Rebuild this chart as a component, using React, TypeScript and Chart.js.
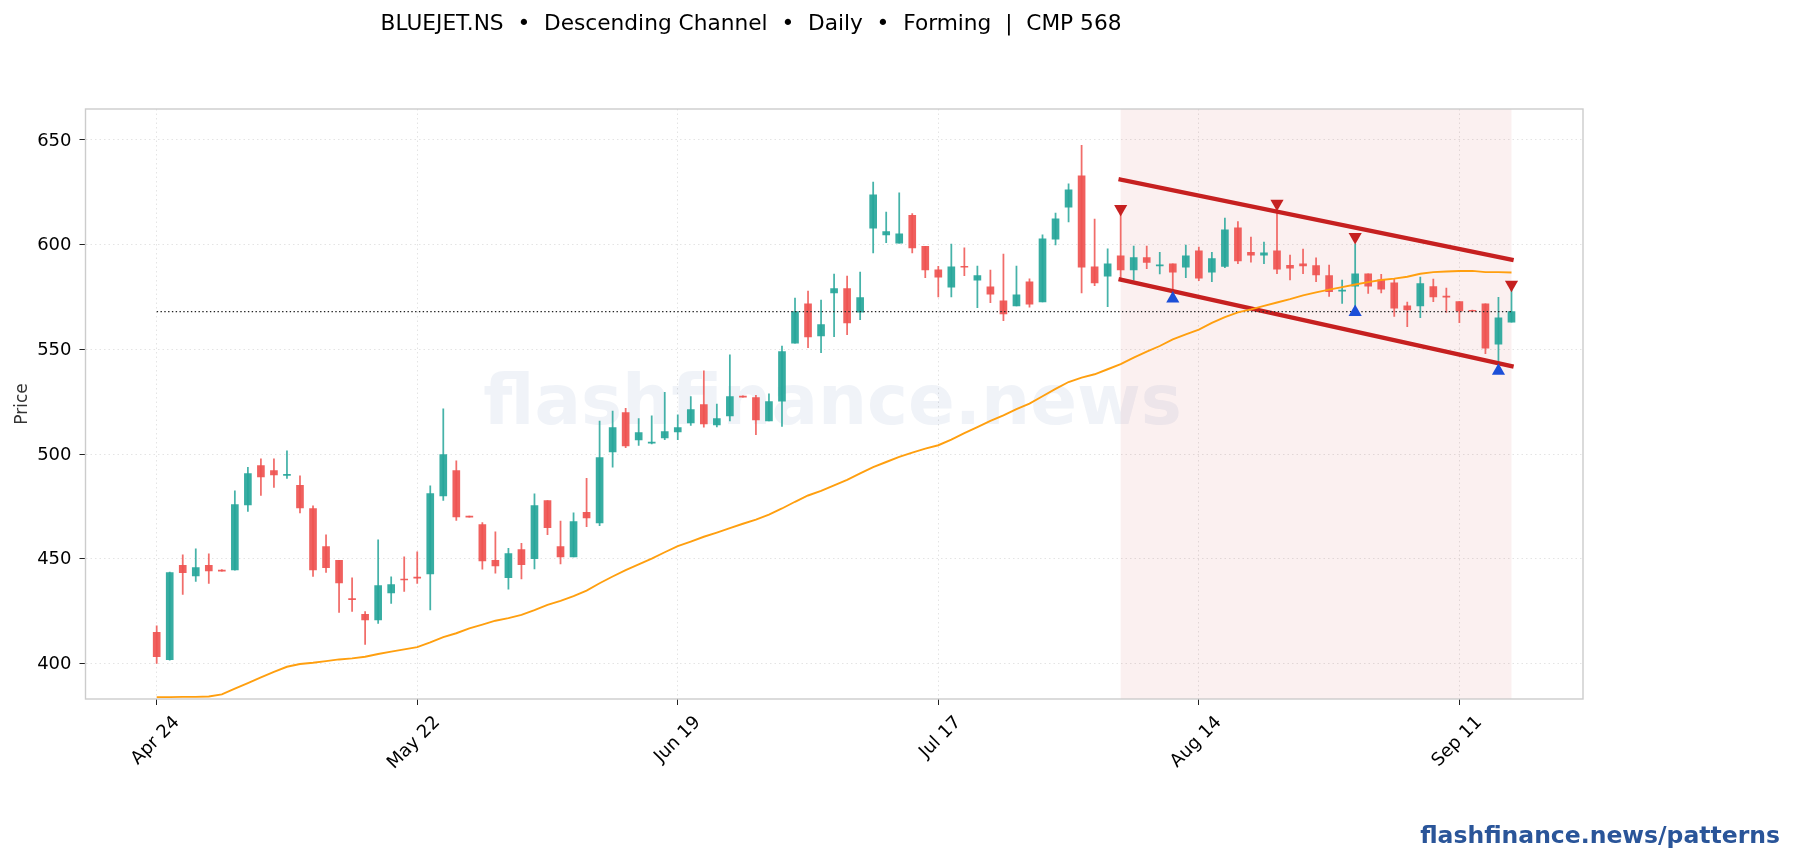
import React, { useEffect, useRef } from "react";
import { Chart, registerables } from "chart.js";

Chart.register(...registerables);

const titleText = "BLUEJET.NS  •  Descending Channel  •  Daily  •  Forming  |  CMP 568";
const footerText = "flashfinance.news/patterns";
const watermarkText = "flashfinance.news";
const tickIndexes = [0, 20, 40, 60, 80, 100];
const tickLabels = ["Apr 24", "May 22", "Jun 19", "Jul 17", "Aug 14", "Sep 11"];

const opens = [414.8,401.8,446.8,441.8,446.8,444.6,444.7,475.7,494.5,492.1,489.8,485,474,455.8,449.2,431,423.4,420.8,433.7,440.3,441.2,442.8,480,492.1,470.4,466.3,449.2,440.9,454.4,450,477.8,455.8,450.9,472.1,467.1,501,519.8,506.8,505.2,507.7,510.6,514.9,523.6,513.9,518.2,527.7,527,515.8,525.3,553,571.8,556.4,576.9,579,567.8,607.9,604.6,600.7,614,599.2,588,579.7,589.7,583.1,579.9,573.2,570.7,582.3,572.6,602.6,617.9,632.9,589.4,585,594.7,587.9,593.8,589.8,590.9,589.3,597.1,586.9,589.6,608.1,596.3,595,597.1,590.1,590.9,590,585.2,577.8,580.2,586.1,583.2,581.8,570.8,570.7,580,575.4,572.8,568.6,571.8,552.5,563];
const highs = [418,443.6,451.9,454.7,452.3,444.8,482.4,493.6,497.7,497.7,501.5,489.6,475.3,461.4,449.2,440.9,424.7,459,441.4,450.9,453.3,484.8,521.6,496.7,470.4,467.3,462.8,455,457.3,481,477.8,468,471.9,488.4,515.8,520.5,521.8,516.9,518.2,529.5,518.7,527.4,539.8,523.9,547.4,527.8,528,528.7,551.6,574.5,577.8,573.5,586,585,586.9,629.9,615.6,624.8,614.8,599.2,589.6,600.3,598.5,589.8,587.9,595.5,589.8,583.7,604.7,615.1,629.1,647.5,612.2,598,616.3,599.3,599.3,596.4,590.9,599.8,598.8,596.4,612.7,611,603.6,601.2,616.3,595,597.9,593.7,590.3,583.1,600.4,586.1,585.8,583.4,572.6,584.5,583.6,579.3,572.8,568.7,571.8,574.9,579];
const lows = [400,401.5,432.9,439.1,438.2,444,444.5,472.6,480.2,484,488.3,471.9,441.5,443.4,424.3,424.8,409.1,419.1,428.6,434.4,438.2,425.6,477.8,468.3,469.9,445,443.1,435.5,440.3,445.1,461.5,447.5,450.9,465.3,465.8,493.7,503,504.1,504.8,506.9,506.9,513.7,512.8,513,515.8,527.2,509.3,515.8,513.2,553,550.8,548.4,556,557,564.2,596.1,600.9,600.7,596.1,584.2,575.1,575.1,585.2,569.9,572.3,563.7,570.7,570.2,572.6,599.9,610.9,577,580.4,570.4,583.7,583.1,588.5,586,576,584.2,582.8,582.3,589,590.9,591.6,590.9,586.1,583.2,586.1,582.3,575.3,571.9,570.2,576.7,577,565.7,560.8,565.1,572.8,567.6,562.7,568.1,547.9,543,563];
const closes = [403.2,443.4,443.3,445.8,444.2,444.1,475.9,490.7,489.1,490,490.3,474.3,444.7,445.7,438.5,430.4,420.8,437.2,437.7,439.9,440.7,481.1,499.8,470,469.9,449,446.6,452.5,447.1,475.4,464.8,450.9,467.8,469.5,498.3,512.6,503.9,510.3,505.7,510.7,512.6,521.2,514.4,516.9,527.4,527.2,516.3,525,548.9,568,555.9,561.8,579,562.6,574.7,623.8,606.2,605.2,598.4,587.9,584.5,589.4,589.2,585.2,576.4,566.9,576.1,571.6,602.8,612.4,626.2,589.3,581.7,590.9,587.9,593.8,591.5,590.4,586.9,594.7,584,593.3,607.1,592.2,595,596.1,588.3,588.8,589.8,585.5,577.5,578.3,586.1,580.2,578.8,569.7,568.8,581.4,575,574.9,568.3,568.2,550.6,565.1,568];
const sma = [383.9,383.9,384,384,384.2,385.2,387.9,390.6,393.3,396,398.4,399.7,400.3,401.1,401.9,402.4,403.2,404.5,405.6,406.7,407.8,410,412.6,414.4,416.7,418.5,420.4,421.6,423.2,425.5,428,429.9,432.1,434.8,438.3,441.5,444.6,447.3,450.1,453.1,456,458.2,460.5,462.5,464.6,466.7,468.7,471.1,474,477.2,480.2,482.4,485,487.7,490.8,493.8,496.2,498.6,500.7,502.6,504.2,506.9,510,512.9,515.8,518.5,521.5,524.1,527.6,531.1,534.4,536.5,538.1,540.5,543,546,548.9,551.6,554.8,557.2,559.4,562.6,565.4,567.7,569.1,570.8,572.4,574,575.8,577.2,578.5,579.7,581,582.1,583.1,583.8,584.7,586.1,586.9,587.2,587.4,587.5,586.9,586.9,586.7];

const channelIndexes = [74, 104];
const upperChannel = [631.1, 592.8];
const lowerChannel = [583.3, 542.0];
const cmp = 568;
const cmpIndexes = [0, 104];
const peakIndexes = [74, 86, 92, 104];
const peakValues = [617.1, 619.6, 603.7, 580.9];
const troughIndexes = [78, 92, 103];
const troughValues = [574.2, 567.8, 539.7];

const UP = "rgba(38,166,154,0.92)";
const DOWN = "rgba(239,83,80,0.92)";
const UP_WICK = "rgba(38,166,154,0.85)";
const DOWN_WICK = "rgba(239,83,80,0.85)";
const FONT = '"DejaVu Sans", sans-serif';

export default function App() {
  const ref = useRef<HTMLCanvasElement | null>(null);

  useEffect(() => {
    document.body.style.margin = "0";
    document.body.style.background = "#ffffff";
    const isUp = opens.map((o, i) => closes[i] >= o);
    const at = (xs: number[], ys: number[]) => xs.map((x, i) => ({ x, y: ys[i] }));

    const chart = new Chart(ref.current as HTMLCanvasElement, {
      type: "line",
      data: {
        datasets: [
          {
            type: "scatter",
            label: "Peaks",
            order: 0,
            data: at(peakIndexes, peakValues),
            showLine: false,
            pointStyle: "triangle",
            pointRotation: 180,
            pointRadius: 7.6,
            pointBackgroundColor: "#c62020",
            pointBorderColor: "#c62020",
            pointBorderWidth: 0,
          },
          {
            type: "scatter",
            label: "Troughs",
            order: 0,
            data: at(troughIndexes, troughValues),
            showLine: false,
            pointStyle: "triangle",
            pointRadius: 7.6,
            pointBackgroundColor: "#1c4fd8",
            pointBorderColor: "#1c4fd8",
            pointBorderWidth: 0,
          },
          {
            type: "line",
            label: "SMA",
            order: 1,
            data: sma.map((y, x) => ({ x, y })),
            borderColor: "#ff9f0f",
            borderWidth: 1.9,
            pointRadius: 0,
            tension: 0,
          },
          {
            type: "line",
            label: "CMP",
            order: 2,
            data: at(cmpIndexes, [cmp, cmp]),
            borderColor: "#222222",
            borderWidth: 1.1,
            borderDash: [1.4, 2.4],
            pointRadius: 0,
          },
          {
            type: "line",
            label: "Upper",
            order: 3,
            data: at(channelIndexes, upperChannel),
            borderColor: "#c62020",
            borderWidth: 4.4,
            borderCapStyle: "square",
            pointRadius: 0,
          },
          {
            type: "line",
            label: "Lower",
            order: 3,
            data: at(channelIndexes, lowerChannel),
            borderColor: "#c62020",
            borderWidth: 4.4,
            borderCapStyle: "square",
            pointRadius: 0,
          },
          {
            type: "bar",
            label: "Bodies",
            order: 4,
            grouped: false,
            barThickness: 7,
            data: opens.map((o, x) => ({ x, y: [o, closes[x]] })),
            backgroundColor: isUp.map((u) => (u ? UP : DOWN)),
            borderWidth: 0,
          },
          {
            type: "bar",
            label: "Wicks",
            order: 5,
            grouped: false,
            barThickness: 1.1,
            data: lows.map((l, x) => ({ x, y: [l, highs[x]] })),
            backgroundColor: isUp.map((u) => (u ? UP_WICK : DOWN_WICK)),
            borderWidth: 0,
          },
        ] as any,
      },
      options: {
        responsive: false,
        animation: false,
        devicePixelRatio: 1,
        layout: { padding: { left: 0, top: 109, right: 210, bottom: 0 } },
        plugins: { legend: { display: false }, title: { display: false }, tooltip: { enabled: false } },
        scales: {
          x: {
            type: "linear",
            offset: false,
            min: -5.465,
            max: 109.49,
            afterBuildTicks: (scale: any) => {
              scale.ticks = tickIndexes.map((value) => ({ value }));
            },
            afterFit: (scale: any) => {
              scale.height = 161;
            },
            grid: {
              offset: false,
              color: "#e4e4e4",
              lineWidth: 1,
              tickColor: "#222222",
              tickLength: 6,
              tickWidth: 1,
            },
            border: { display: false, dash: [1.5, 3] },
            ticks: {
              autoSkip: false,
              maxRotation: 45,
              minRotation: 45,
              labelOffset: 20,
              padding: 7,
              color: "#000000",
              font: { family: FONT, size: 18 },
              callback: (value: any) => tickLabels[tickIndexes.indexOf(Number(value))] ?? "",
            },
          },
          y: {
            type: "linear",
            min: 383,
            max: 664.8,
            afterFit: (scale: any) => {
              scale.width = 85.5;
            },
            title: {
              display: true,
              text: "Price",
              color: "#333333",
              font: { family: FONT, size: 17 },
              padding: { top: 12, bottom: 0 },
            },
            grid: {
              color: "#e4e4e4",
              lineWidth: 1,
              tickColor: "#222222",
              tickLength: 6,
              tickWidth: 1,
            },
            border: { display: false, dash: [1.5, 3] },
            ticks: {
              stepSize: 50,
              includeBounds: false,
              padding: 8,
              labelOffset: 1,
              color: "#000000",
              font: { family: FONT, size: 18 },
            },
          },
        },
      } as any,
      plugins: [
        {
          id: "chartDressing",
          beforeDatasetsDraw(c: any) {
            const { ctx, chartArea, scales } = c;
            ctx.save();
            ctx.fillStyle = "rgba(42,85,153,0.07)";
            ctx.font = `bold 69px ${FONT}`;
            ctx.textAlign = "center";
            ctx.textBaseline = "middle";
            ctx.fillText(watermarkText, 832.5, 406);
            const x0 = scales.x.getPixelForValue(channelIndexes[0]);
            const x1 = scales.x.getPixelForValue(channelIndexes[1]);
            ctx.fillStyle = "rgba(198,40,40,0.07)";
            ctx.fillRect(x0, chartArea.top, x1 - x0, chartArea.bottom - chartArea.top);
            ctx.restore();
          },
          afterDraw(c: any) {
            const { ctx, chartArea } = c;
            ctx.save();
            ctx.strokeStyle = "#cccccc";
            ctx.lineWidth = 1.4;
            ctx.strokeRect(chartArea.left, chartArea.top, chartArea.right - chartArea.left, chartArea.bottom - chartArea.top);
            ctx.fillStyle = "#000000";
            ctx.font = `21.7px ${FONT}`;
            ctx.textAlign = "center";
            ctx.textBaseline = "middle";
            ctx.fillText(titleText, 751, 24);
            ctx.fillStyle = "#2a5599";
            ctx.font = `bold 23.5px ${FONT}`;
            ctx.textAlign = "right";
            ctx.fillText(footerText, 1780, 837);
            ctx.restore();
          },
        },
      ],
    });
    return () => chart.destroy();
  }, []);

  return (
    <div style={{ position: "absolute", left: 0, top: 0, width: 1793, height: 860 }}>
      <canvas ref={ref} width={1793} height={860} style={{ display: "block", width: 1793, height: 860 }} />
    </div>
  );
}
